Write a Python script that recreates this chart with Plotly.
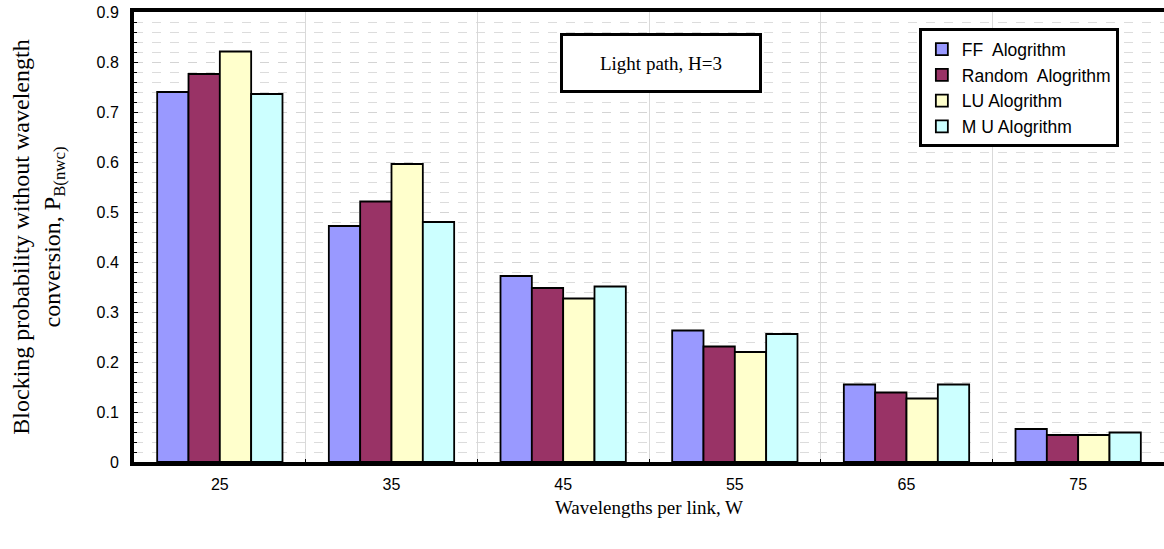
import plotly.graph_objects as go

categories = ["25", "35", "45", "55", "65", "75"]
ff = [0.740, 0.472, 0.372, 0.263, 0.155, 0.066]
rnd = [0.776, 0.521, 0.348, 0.231, 0.139, 0.054]
lu = [0.821, 0.596, 0.327, 0.220, 0.127, 0.054]
mu = [0.736, 0.480, 0.351, 0.256, 0.155, 0.059]
series_names = ["FF  Alogrithm", "Random  Alogrithm", "LU Alogrithm", "M U Alogrithm"]
colors = ["#9999FF", "#993366", "#FFFFCC", "#CCFFFF"]

fig = go.Figure()
for name, vals, col in zip(series_names, [ff, rnd, lu, mu], colors):
    fig.add_trace(go.Bar(x=categories, y=vals, name=name, legendgroup=name,
                         marker=dict(color=col, line=dict(color="black", width=1.8))))

sans = "Liberation Sans, Arial, sans-serif"
serif = "Liberation Serif, Times New Roman, serif"

fig.update_layout(
    width=1164, height=549,
    margin=dict(l=134, r=0, t=12, b=87),
    paper_bgcolor="white", plot_bgcolor="white",
    barmode="group", bargap=0.27, bargroupgap=0,
    font=dict(family=sans, size=15, color="black"),
    showlegend=True,
    legend=dict(x=0.762, y=0.964, xanchor="left", yanchor="top",
                bordercolor="black", borderwidth=3, bgcolor="white",
                font=dict(family=sans, size=17.5, color="black"),
                tracegroupgap=8, itemwidth=30, traceorder="normal"),
    annotations=[dict(text="Light path, H=3", xref="paper", yref="paper",
                      x=0.512, y=0.887, xanchor="center", yanchor="middle",
                      showarrow=False,
                      font=dict(family=serif, size=19, color="black"),
                      bordercolor="black", borderwidth=3, bgcolor="white",
                      width=194, height=52)],
)
fig.update_xaxes(
    type="category", tickson="boundaries",
    showgrid=True, gridcolor="#d9d9d9", gridwidth=1,
    showline=True, linecolor="black", linewidth=4, mirror=True,
    ticks="inside", ticklen=3, tickcolor="black",
    ticklabelstandoff=5,
    tickfont=dict(family=sans, size=16, color="black"),
    title=dict(text="Wavelengths per link, W", font=dict(family=serif, size=19, color="black"), standoff=9),
)
fig.update_yaxes(
    range=[0, 0.9], dtick=0.1,
    showgrid=True, gridcolor="#d4d4d4", griddash="dash", gridwidth=1,
    minor=dict(dtick=0.02, showgrid=True, gridcolor="#dcdcdc", griddash="dash",
               ticks="inside", ticklen=3, tickcolor="black"),
    showline=True, linecolor="black", linewidth=4, mirror=False,
    ticks="inside", ticklen=4, tickcolor="black",
    ticklabelstandoff=8, zeroline=False,
    tickfont=dict(family=sans, size=16, color="black"),
    title=dict(text="Blocking probability without wavelength<br>conversion, P<sub>B(nwc)</sub>",
               font=dict(family=serif, size=24, color="black"), standoff=30),
)

fig.write_html("out.html")
